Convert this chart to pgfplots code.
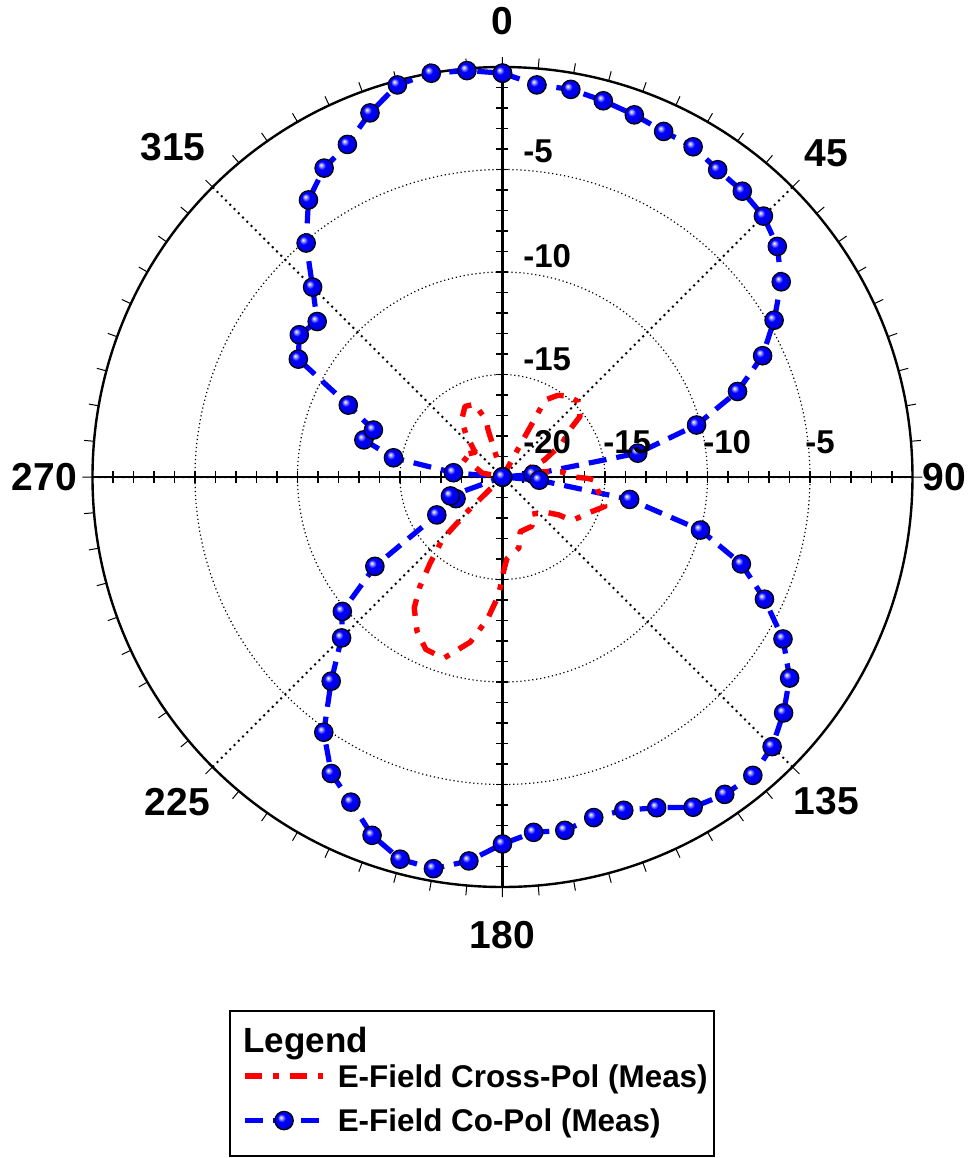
\documentclass[border=0pt]{standalone}
\usepackage{pgfplots}
\pgfplotsset{compat=1.18}
\usepgfplotslibrary{polar}
\usepackage{pgfplotstable}
\usepackage{fontspec}
\setmainfont{Liberation Sans}

\pgfplotstableread{
a v
0 -0.3
5 -0.8
10 -0.8
15 -1.0
20 -1.2
25 -1.4
30 -1.4
35 -1.7
40 -1.8
45 -2.0
50 -2.5
55 -3.4
60 -4.7
65 -6.0
70 -7.8
75 -10.2
80 -13.3
85 -18.5
90 -20
95 -18.2
100 -13.7
105 -10.0
110 -7.6
115 -5.9
120 -4.2
125 -2.9
130 -2.1
135 -1.4
140 -1.0
145 -1.1
150 -1.4
155 -2.2
160 -2.7
165 -2.8
170 -2.5
175 -2.6
180 -2.1
185 -1.2
190 -0.6
195 -0.7
200 -1.4
205 -2.5
210 -3.3
215 -4.8
220 -7.0
225 -8.9
230 -9.8
235 -12.4
240 -16.3
245 -17.5
250 -17.3
255 -20
260 -20
265 -20
270 -20
275 -17.6
280 -14.6
285 -13.0
290 -13.3
295 -11.7
300 -8.5
305 -7.9
310 -8.2
315 -6.9
320 -5.1
325 -3.5
330 -2.6
335 -2.1
340 -1.1
345 -0.2
350 0.0
355 -0.1
360 -0.3
}\copol

\pgfplotstableread{
a v
0 -20
25 -20
29 -15.7
34 -15.2
39 -14.9
45 -14.8
52 -15.2
55 -16.0
61 -16.7
64 -17.3
68 -17.8
71 -18.55
77 -18.9
85 -17.1
90 -16.5
91 -15.8
92 -15.5
98 -15.3
106 -14.8
112 -15.4
115 -15.6
122 -16.0
124 -16.7
130 -17.35
135 -17.5
142 -17.7
149 -17.2
162 -17.2
167 -16.45
177 -16.0
179.5 -15.35
181 -14.7
182 -14.2
186 -13.05
191 -11.8
198 -10.7
204 -10.8
209 -11.4
214 -12.3
217 -13.3
220 -14.5
224 -15.8
225.5 -17.7
227 -20
275 -20
281 -19.0
294 -18.2
297 -17.7
312 -18.2
320 -17.2
324 -16.6
332 -16.1
339 -16.2
344 -17.1
343 -17.6
343.5 -19.0
346 -20
360 -20
}\xpol

\pgfdeclareradialshading{blueball}{\pgfqpoint{-9bp}{9bp}}{%
  color(0bp)=(white); color(4bp)=(blue!35!white); color(11bp)=(blue);
  color(24bp)=(blue!88!black); color(34bp)=(blue!55!black); color(50bp)=(black)}

\pgfdeclareplotmark{sball}{%
  \pgfpathcircle{\pgfpointorigin}{\pgfplotmarksize}%
  \pgfshadepath{blueball}{0}%
  \pgfusepath{discard}%
  \pgfsetstrokecolor{black}%
  \pgfsetlinewidth{0.6pt}%
  \pgfsetdash{}{0pt}%
  \pgfpathcircle{\pgfpointorigin}{\pgfplotmarksize}%
  \pgfusepath{stroke}%
}

\begin{document}
\begin{tikzpicture}[font=\bfseries]
\path (-251.25pt,-340.5pt) rectangle (236.75pt,238.5pt);
\begin{polaraxis}[
  at={(0pt,0pt)}, anchor=center, name=pa,
  width=410pt, height=410pt, scale only axis,
  xmin=0, xmax=360, ymin=0, ymax=20,
  xtick={0,45,...,315}, xticklabels={},
  minor x tick num=8,
  tick align=inside,
  major tick length=5pt, minor tick length=5pt,
  x tick style={black, line width=0.5pt},
  ytick={5,10,15}, yticklabels={},
  y tick style={draw=none},
  xmajorgrids, ymajorgrids,
  x grid style={black, line width=1pt, dash pattern=on 1pt off 2pt},
  y grid style={black, line width=0.6pt, dash pattern=on 0.6pt off 1.4pt},
  axis line style={black, line width=1.2pt},
  clip=false,
  reverse legend,
  legend image code/.code={\draw[mark repeat=2,mark phase=2,#1] plot coordinates {(0pt,0pt) (19.5pt,0pt) (39pt,0pt)};},
  legend style={at={(axis description cs:0.1823,-0.2159)}, anchor=north west,
    draw=none, fill=none, inner sep=0pt, row sep=11pt, column sep=6pt,
    font=\bfseries\fontsize{15.7}{18}\selectfont,
    nodes={inner sep=0pt, text depth=0pt}},
  legend cell align=left,
]
\draw[black, line width=1.3pt] (axis cs:0,20) -- (axis cs:180,20);
\draw[black, line width=1.3pt] (axis cs:90,20) -- (axis cs:270,20);
\pgfplotsinvokeforeach{1,...,19}{
  \draw[black, line width=0.6pt] (axis cs:0,#1) ++(0,-3pt) -- ++(0,6pt);
  \draw[black, line width=0.6pt] (axis cs:180,#1) ++(0,-3pt) -- ++(0,6pt);
  \draw[black, line width=0.6pt] (axis cs:90,#1) ++(-3pt,0) -- ++(6pt,0);
  \draw[black, line width=0.6pt] (axis cs:270,#1) ++(-3pt,0) -- ++(6pt,0);
}
\addplot[blue, line width=2.6pt, line join=round, dash pattern=on 9pt off 5pt,
  mark=sball, mark size=4.6pt, mark options={solid}]
  table[x expr=90-\thisrow{a}, y expr=\thisrow{v}+20] {\copol};
\addlegendentry{E-Field Co-Pol (Meas)}
\addplot[red, line width=2.7pt, line join=round, dash pattern=on 8.5pt off 5.5pt on 2.8pt off 5.8pt, no markers]
  table[x expr=90-\thisrow{a}, y expr=\thisrow{v}+20] {\xpol};
\addlegendentry{E-Field Cross-Pol (Meas)}
\end{polaraxis}
\foreach \t/\r in {0/228,45/229,90/221,135/229,180/229,225/230,270/229,315/233}{
  \node[font=\bfseries\fontsize{19.5}{22}\selectfont, inner sep=0pt] at ({90-\t}:\r pt) {\t};
}
\begin{scope}[every node/.style={anchor=base west, inner sep=0pt, font=\bfseries\fontsize{16.5}{19}\selectfont}]
\node at (10.25pt,157.5pt) {-5};
\node at (10.25pt,105pt) {-10};
\node at (10.25pt,53.5pt) {-15};
\node at (10.25pt,12pt) {-20};
\node at (50.25pt,12pt) {-15};
\node at (100.25pt,12pt) {-10};
\node at (151.25pt,12pt) {-5};
\end{scope}
\draw[black, line width=1.2pt] (-136.25pt,-267pt) rectangle (105.75pt,-339.4pt);
\node[anchor=base west, inner sep=0pt, font=\bfseries\fontsize{17.5}{20}\selectfont] at (-129.75pt,-287.5pt) {Legend};
\end{tikzpicture}
\end{document}
